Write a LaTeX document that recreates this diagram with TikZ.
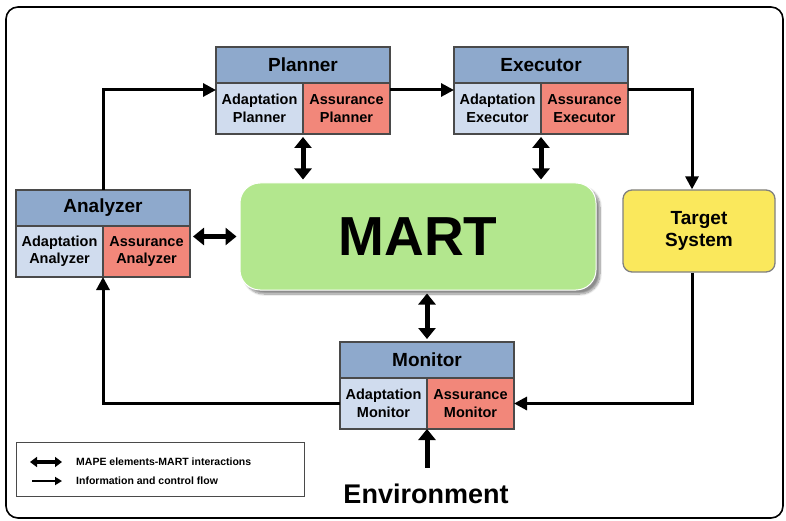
\documentclass[tikz,border=0pt]{standalone}
\usepackage{fontspec}
\setmainfont{Liberation Sans}
\usetikzlibrary{arrows.meta,calc,shadows.blur}

\definecolor{headblue}{HTML}{8EA9CC}
\definecolor{adaptblue}{HTML}{D0DCEE}
\definecolor{assurred}{HTML}{F2877A}
\definecolor{martgreen}{HTML}{B3E78E}
\definecolor{targetyellow}{HTML}{FAE85C}
\definecolor{boxgray}{HTML}{4A4A4A}

\tikzset{
  headbox/.style={draw=boxgray, line width=1.3pt, fill=headblue, minimum width=174pt, minimum height=36pt, inner sep=0pt, outer sep=0pt, font=\bfseries\fontsize{19}{21}\selectfont},
  cellbox/.style={draw=boxgray, line width=1.3pt, minimum width=87pt, minimum height=51pt, inner sep=0pt, outer sep=0pt, align=center, font=\bfseries\fontsize{14.5}{17.5}\selectfont},
  adaptbox/.style={cellbox, fill=adaptblue},
  assurbox/.style={cellbox, fill=assurred},
  flow/.style={line width=3pt, -{Triangle[length=13pt,width=13pt]}},
  inter/.style={line width=5pt, {Triangle[length=11pt,width=17pt]}-{Triangle[length=11pt,width=17pt]}, shorten <=3pt, shorten >=3pt},
}

% one MAPE element: header plus adaptation and assurance cells
\newcommand{\mapebox}[4]{%
  \node[headbox, anchor=north west] (#1) at (#2) {#3};
  \node[adaptbox, anchor=north west] (#1A) at (#1.south west) {Adaptation\\#4};
  \node[assurbox, anchor=north east] (#1S) at (#1.south east) {Assurance\\#4};
}

\begin{document}
\begin{tikzpicture}[x=1pt, y=-1pt]
        \useasboundingbox (0,0) rectangle (786,521);
        \draw[line width=1.6pt, rounded corners=12pt] (6,7) rectangle (783,518);

        % MAPE elements
        \mapebox{plan}{216,47}{Planner}{Planner}
        \mapebox{exec}{454,47}{Executor}{Executor}
        \mapebox{ana}{16,190}{Analyzer}{Analyzer}
        \mapebox{mon}{340,342}{Monitor}{Monitor}

        \node[draw=white, line width=1pt, fill=martgreen, rounded corners=20pt, minimum width=356pt, minimum height=107pt,
              blur shadow={shadow xshift=4pt, shadow yshift=-4pt, shadow blur steps=10, shadow opacity=45},
              font=\bfseries\fontsize{55}{60}\selectfont] (mart) at (418,236.5) {MART};
        \node[draw=gray, line width=1.3pt, fill=targetyellow, rounded corners=9pt, minimum width=152pt, minimum height=82pt,
              align=center, font=\bfseries\fontsize{19}{22}\selectfont] (tgt) at (699,231) {Target\\System};
        \node[font=\bfseries\fontsize{27}{30}\selectfont] (env) at (426,494) {Environment};

        % information and control flow
        \draw[flow] (ana.north) |- ($(planA.north west)+(0,7)$);
        \draw[flow] ($(planS.north east)+(0,7)$) -- ($(execA.north west)+(0,7)$);
        \draw[flow] ($(execS.north east)+(0,7)$) -| ([xshift=-7pt]tgt.north);
        \draw[flow] ([xshift=-7pt]tgt.south) |- (monS.east);
        \draw[flow] (monA.west) -| (anaA.south east);
        \draw[line width=5pt, -{Triangle[length=11pt,width=17pt]}, shorten <=13pt] (env.north -| monA.south east) -- (monA.south east);

        % MAPE elements - MART interactions
        \draw[inter] (planA.south east) -- (planA.south east |- mart.north);
        \draw[inter] (execA.south east) -- (execA.south east |- mart.north);
        \draw[inter] (anaS.east |- mart.west) -- (mart.west);
        \draw[inter] (mart.south -| mon.north) -- (mon.north);

        % legend
        \draw[line width=0.8pt, draw=boxgray] (16,442) rectangle (304,496);
        \coordinate (L1a) at (30,462);
        \coordinate (L1b) at (62,462);
        \coordinate (L2a) at (32,481);
        \coordinate (L2b) at (62,481);
        \draw[line width=3.5pt, {Triangle[length=7pt,width=10pt]}-{Triangle[length=7pt,width=10pt]}] (L1a) -- (L1b);
        \draw[line width=2pt, -{Triangle[length=7pt,width=8pt]}] (L2a) -- (L2b);
        \node[anchor=west, inner sep=0pt, font=\bfseries\fontsize{10.5}{12}\selectfont] (legint) at (76,462) {MAPE elements-MART interactions};
        \node[anchor=west, inner sep=0pt, font=\bfseries\fontsize{10.5}{12}\selectfont] (legflow) at (76,481) {Information and control flow};
\end{tikzpicture}
\end{document}
